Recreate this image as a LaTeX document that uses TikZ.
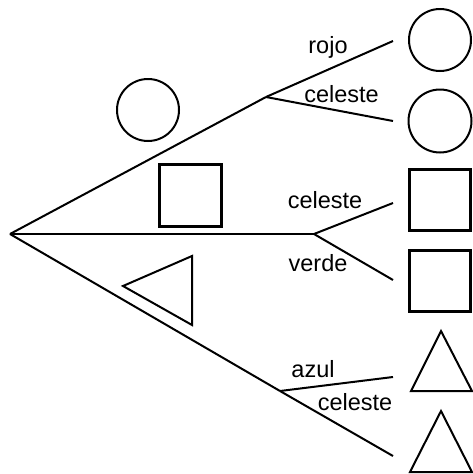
\documentclass[tikz,border=0pt]{standalone}
\usepackage{fontspec}
\setmainfont{Liberation Sans}
\begin{document}
\begin{tikzpicture}[x=1pt,y=-1pt,
  edge/.style={line width=2pt},
  shp/.style={draw,line width=2pt,inner sep=0pt},
  circ/.style={shp,circle},
  sq/.style={shp,rectangle,line width=3pt},
  tri/.style={line width=2pt,line join=miter},
  lbl/.style={anchor=base,inner sep=0pt,font=\fontsize{23.5}{26}\selectfont}]
\useasboundingbox (0,0) rectangle (473,474);
% branch points
\coordinate (root) at (10,234);
\coordinate (ja) at (266,97);
\coordinate (jb) at (314,234);
\coordinate (jc) at (280,391);
\coordinate (e1) at (393,41);
\coordinate (e2) at (393,121);
\coordinate (e3) at (393,203);
\coordinate (e4) at (393,280);
\coordinate (e5) at (393,377);
\coordinate (e6) at (393,456);
% edges
\draw[edge] (root) -- (ja);
\draw[edge] (root) -- (jb);
\draw[edge] (root) -- (jc);
\draw[edge] (ja) -- (e1);
\draw[edge] (ja) -- (e2);
\draw[edge] (jb) -- (e3);
\draw[edge] (jb) -- (e4);
\draw[edge] (jc) -- (e5);
\draw[edge] (jc) -- (e6);
% labels
\node[lbl] (l1) at (328,53) {rojo};
\node[lbl] (l2) at (341.5,102) {celeste};
\node[lbl] (l3) at (325,208) {celeste};
\node[lbl] (l4) at (318,271) {verde};
\node[lbl] (l5) at (313,377) {azul};
\node[lbl] (l6) at (355,410) {celeste};
% left shapes
\node[circ,minimum size=62pt] (c0) at (148,110) {};
\node[sq,minimum size=62pt] (s0) at (190.5,195) {};
\draw[tri] (123,286) -- (192,256) -- (192,325) -- cycle;
% right shapes
\node[circ,minimum size=62pt] (c1) at (440,40) {};
\node[circ,minimum size=63pt] (c2) at (440,121) {};
\node[sq,minimum size=61pt] (s1) at (440,199.5) {};
\node[sq,minimum size=61pt] (s2) at (440,281) {};
\draw[tri] (441,331) -- (472,391) -- (411,391) -- cycle;
\draw[tri] (441,411) -- (472,472) -- (410,472) -- cycle;
\end{tikzpicture}
\end{document}
